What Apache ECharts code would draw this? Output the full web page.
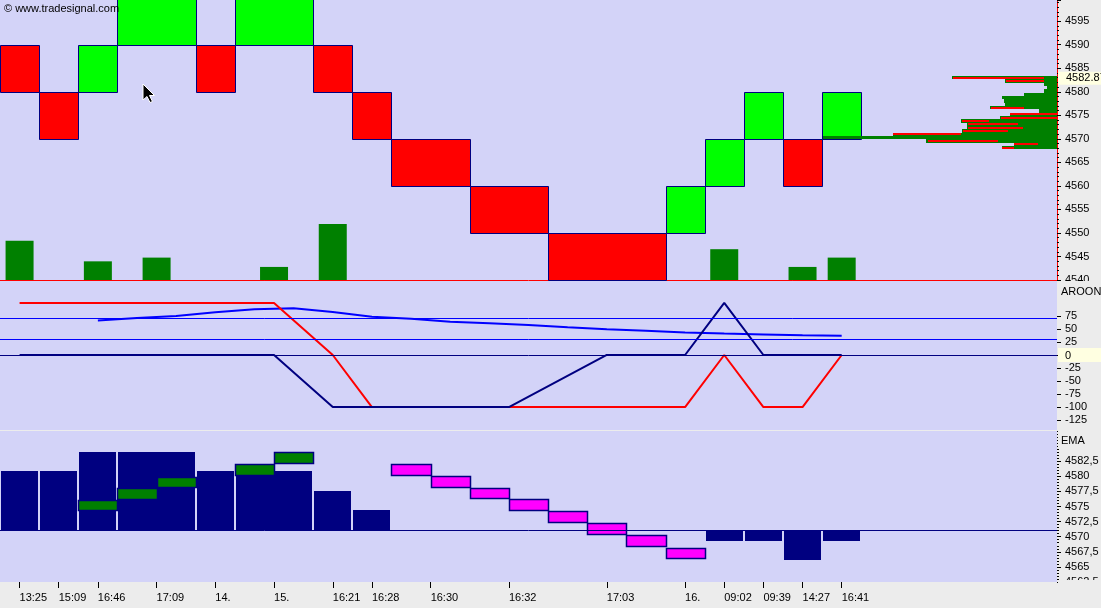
<!DOCTYPE html>
<html><head><meta charset="utf-8">
<script src="https://cdn.jsdelivr.net/npm/echarts@6/dist/echarts.min.js"></script>
<style>html,body{margin:0;padding:0;background:#ececec;}#c{width:1101px;height:608px;}</style>
</head><body><div id="c"></div>
<script>
// ---------------- data ----------------
const colLabels = ["13:25","15:09","16:46","17:09","14.","15.","16:21","16:28","16:30","16:32","17:03","16.","09:02","09:39","14:27","16:41"];
const colWidths = [1,1,1,2,1,2,1,1,2,2,3,1,1,1,1,1];
const renkoLow  = [4580,4570,4580,4590,4580,4590,4580,4570,4560,4550,4540,4550,4560,4570,4560,4570];
const renkoDir  = ['down','down','up','up','down','up','down','down','down','down','down','up','up','up','down','up'];
const renkoBoxSize = 10;
const volume = [42,null,20,24,null,14,60,null,null,null,null,null,33,null,14,24];
const lastPrice = 4582.87;
const priceTickLabels = [4540,4545,4550,4555,4560,4565,4570,4575,4580,4585,4590,4595];

const profilePrice = [4583.00,4582.29,4581.58,4580.87,4580.16,4579.46,4578.75,4578.04,4577.33,4576.62,4575.91,4575.21,4574.50,4573.79,4573.08,4572.37,4571.66,4570.96,4570.25,4569.54,4568.83,4568.12];
const profileTotal = [105,52,13,10,13,33,55,53,52,67,18,47,57,96,90,90,95,164,234,131,43,55];
const profileRedFrom = [13,13,null,null,null,null,null,null,null,33,null,0,0,68,39,34,49,96,null,59,19,43];
const profileRedTo   = [104,51,null,null,null,null,null,null,null,66,null,47,56,95,89,89,94,164,null,129,43,55];
const profileStep = 0.708;

const aroonUp   = [100,100,100,100,100,100,0,-100,-100,-100,-100,-100,0,-100,-100,0];
const aroonDown = [0,0,0,0,0,0,-100,-100,-100,-100,0,0,100,0,0,0];
const oscSlots  = [2,3,4,5,6,7,8,9,10,11,12,13,14,15,16,17,18,19,20,21];
const oscValues = [66,71,75,82,88,89.5,82.5,73.5,69.5,64,61,57.5,53,49.5,46.5,43,41,39.5,38,37];
const aroonLevels = [70,30];
const aroonTickLabels = [75,50,25,0,-25,-50,-75,-100,-125];

const emaHist = [4580.9,4580.9,4584.0,4584.0,4580.9,4580.9,4577.6,4574.4,null,null,null,null,4569.3,4569.3,4566.1,4569.3];
const emaBase = 4571.1;
const emaBoxSlot   = [2,3,4,6,7,10,11,12,13,14,15,16,17];
const emaBoxTop    = [4576.0,4578.0,4579.9,4582.0,4584.0,4582.0,4580.0,4578.0,4576.2,4574.2,4572.2,4570.2,4568.2];
const emaBoxBottom = [4574.4,4576.2,4578.2,4580.2,4582.2,4580.2,4578.2,4576.4,4574.4,4572.4,4570.4,4568.4,4566.4];
const emaBoxTrend  = ['up','up','up','up','up','down','down','down','down','down','down','down','down'];

// ---------------- derived ----------------
const colStart = []; let acc = 0;
colWidths.forEach(w => { colStart.push(acc); acc += w; });
const colCenter = colStart.map((s, i) => s + colWidths[i] / 2);

const FONT = 'Arial, "Liberation Sans", sans-serif';
const LBL = { color: '#000', fontFamily: FONT, fontSize: 11 };
const BG = '#d3d3f8';
const GRAY = '#ececec';
const NAVY = '#000080';
const R = Math.round;

const renkoData = colStart.map((s, i) => [s, colWidths[i], renkoLow[i], renkoLow[i] + renkoBoxSize, renkoDir[i] === 'up' ? 1 : 0]);
const volData = [];
volume.forEach((v, i) => { if (v != null) volData.push([colCenter[i], v]); });
const profileData = profilePrice.map((p, i) => [p, profileTotal[i], profileRedFrom[i] == null ? -1 : profileRedFrom[i], profileRedTo[i] == null ? -1 : profileRedTo[i]]);
const histData = [];
emaHist.forEach((v, i) => { if (v != null) histData.push([colStart[i], colWidths[i], v]); });
const boxData = emaBoxSlot.map((s, i) => [s, emaBoxTop[i], emaBoxBottom[i], emaBoxTrend[i] === 'up' ? 1 : 0]);

const chart = echarts.init(document.getElementById('c'), null, { renderer: 'canvas' });

const option = {
  animation: false,
  backgroundColor: GRAY,
  grid: [
    { left: 0, right: 44, top: 0, height: 280, show: true, backgroundColor: BG, borderWidth: 0, outerBoundsMode: 'none' },
    { left: 0, right: 44, top: 281, height: 149, show: true, backgroundColor: BG, borderWidth: 0, outerBoundsMode: 'none' },
    { left: 0, right: 44, top: 431, height: 151, show: true, backgroundColor: BG, borderWidth: 0, outerBoundsMode: 'none' }
  ],
  xAxis: [
    { gridIndex: 0, type: 'value', min: 0, max: 27, axisLine: { show: true, onZero: false, lineStyle: { color: '#ff0000', width: 1 } }, axisTick: { show: false }, axisLabel: { show: false }, splitLine: { show: false } },
    { gridIndex: 1, type: 'value', min: 0, max: 27, show: false },
    { gridIndex: 2, type: 'value', min: 0, max: 27, z: 20,
      axisLine: { show: false, onZero: false },
      axisTick: { show: true, customValues: colCenter, length: 6, lineStyle: { color: '#000', width: 1 } },
      axisLabel: Object.assign({}, LBL, { customValues: colCenter, align: 'left', margin: 10,
        formatter: v => { const i = colCenter.indexOf(v); return i >= 0 ? colLabels[i] : ''; } }),
      splitLine: { show: false } },
    { gridIndex: 0, type: 'value', min: 0, max: 1057, inverse: true, show: false }
  ],
  yAxis: [
    { gridIndex: 0, type: 'value', position: 'right', min: 4540, max: 4599.5, interval: 5,
      axisLine: { show: true, onZero: false, lineStyle: { color: '#ff0000', width: 1 } },
      axisTick: { show: true, length: 4, lineStyle: { color: '#000' } },
      minorTick: { show: true, splitNumber: 5, length: 2, lineStyle: { color: '#000' } },
      axisLabel: Object.assign({}, LBL, { margin: 8, formatter: v => priceTickLabels.indexOf(v) >= 0 ? String(v) : '' }),
      splitLine: { show: false } },
    { gridIndex: 0, type: 'value', min: 0, max: 300, show: false },
    { gridIndex: 0, type: 'value', position: 'right', min: 4540, max: 4599.5, z: 5,
      axisLine: { show: false, onZero: false }, axisTick: { show: false }, splitLine: { show: false },
      axisLabel: { customValues: [lastPrice], margin: 1,
        formatter: v => '{hl|' + v.toFixed(2) + '}',
        rich: { hl: { backgroundColor: '#ffffe1', color: '#000', fontFamily: FONT, fontSize: 11, padding: [1, 12, 1, 8] } } } },
    { gridIndex: 1, type: 'value', position: 'right', min: -144, max: 142,
      axisLine: { show: false, onZero: false },
      axisTick: { show: true, customValues: aroonTickLabels, length: 4, lineStyle: { color: '#000' } },
      axisLabel: { customValues: aroonTickLabels, margin: 1,
        formatter: v => v === 0 ? '{hl|0}' : '{n|' + v + '}',
        rich: {
          n: { color: '#000', fontFamily: FONT, fontSize: 11, padding: [0, 0, 0, 7] },
          hl: { backgroundColor: '#ffffe1', color: '#000', fontFamily: FONT, fontSize: 11, padding: [2, 32, 1, 7] }
        } },
      splitLine: { show: false } },
    { gridIndex: 2, type: 'value', position: 'right', min: 4562.5, max: 4587.5, interval: 2.5,
      axisLine: { show: false, onZero: false },
      axisTick: { show: true, length: 4, lineStyle: { color: '#000' } },
      minorTick: { show: true, splitNumber: 5, length: 2, lineStyle: { color: '#000' } },
      axisLabel: Object.assign({}, LBL, { margin: 8, formatter: v => v > 4582.5 ? '' : String(v).replace('.', ',') }),
      splitLine: { show: false } }
  ],
  series: [
    { name: 'Volume', type: 'bar', xAxisIndex: 0, yAxisIndex: 1, barWidth: 28, data: volData,
      itemStyle: { color: '#008000' }, silent: true },
    { name: 'Renko', type: 'custom', xAxisIndex: 0, yAxisIndex: 0, data: renkoData, silent: true,
      encode: { x: [0, 1], y: [2, 3] },
      renderItem: (params, api) => {
        const a = api.coord([api.value(0), api.value(3)]);
        const b = api.coord([api.value(0) + api.value(1), api.value(2)]);
        const x0 = R(a[0]), y0 = R(a[1]), x1 = R(b[0]), y1 = R(b[1]);
        return { type: 'rect', shape: { x: x0 + 0.5, y: y0 + 0.5, width: x1 - x0, height: y1 - y0 },
          style: { fill: api.value(4) ? '#00ff00' : '#ff0000', stroke: NAVY, lineWidth: 1 } };
      } },
    { name: 'Profile', type: 'custom', xAxisIndex: 3, yAxisIndex: 0, data: profileData, silent: true,
      encode: { x: 1, y: 0 },
      renderItem: (params, api) => {
        const p = api.value(0);
        const top = R(api.coord([0, p + profileStep / 2])[1]);
        const bot = R(api.coord([0, p - profileStep / 2])[1]);
        const c = api.coord([0, p]);
        const g = api.coord([api.value(1), p]);
        const mid = R(c[1]);
        const children = [{ type: 'rect', shape: { x: R(g[0]), y: top, width: R(c[0]) - R(g[0]), height: Math.max(bot - top, 3) },
          style: { fill: '#008000' } }];
        if (api.value(2) >= 0) {
          const r0 = api.coord([api.value(3), p]);
          const r1 = api.coord([api.value(2), p]);
          children.push({ type: 'rect', shape: { x: R(r0[0]), y: mid - 1, width: R(r1[0]) - R(r0[0]), height: 2 },
            style: { fill: '#ff0000' } });
        }
        return { type: 'group', children };
      } },
    { name: 'Oscillator', type: 'line', xAxisIndex: 1, yAxisIndex: 3, silent: true,
      data: oscSlots.map((s, i) => [s + 0.5, oscValues[i]]), showSymbol: false,
      lineStyle: { color: '#0000ff', width: 2 },
      markLine: { silent: true, symbol: ['none', 'none'], label: { show: false },
        lineStyle: { color: '#0000ff', width: 1, type: 'solid' },
        data: aroonLevels.map(v => ({ yAxis: v })).concat([{ yAxis: 0, lineStyle: { color: NAVY, width: 1, type: 'solid' } }]) } },
    { name: 'Aroon Up', type: 'line', xAxisIndex: 1, yAxisIndex: 3, silent: true,
      data: colCenter.map((c, i) => [c, aroonUp[i]]), showSymbol: false,
      lineStyle: { color: '#ff0000', width: 2 } },
    { name: 'Aroon Down', type: 'line', xAxisIndex: 1, yAxisIndex: 3, silent: true,
      data: colCenter.map((c, i) => [c, aroonDown[i]]), showSymbol: false,
      lineStyle: { color: NAVY, width: 2 } },
    { name: 'EMA Hist', type: 'custom', xAxisIndex: 2, yAxisIndex: 4, data: histData, silent: true,
      encode: { x: [0, 1], y: 2 },
      renderItem: (params, api) => {
        const a = api.coord([api.value(0), api.value(2)]);
        const b = api.coord([api.value(0) + api.value(1), emaBase]);
        const x0 = R(a[0]) + 1, x1 = R(b[0]) - 1;
        const yt = Math.min(a[1], b[1]), yb = Math.max(a[1], b[1]);
        return { type: 'rect', shape: { x: x0, y: R(yt), width: x1 - x0, height: R(yb) - R(yt) }, style: { fill: NAVY } };
      },
      markLine: { silent: true, symbol: ['none', 'none'], label: { show: false },
        lineStyle: { color: NAVY, width: 1, type: 'solid' }, data: [{ yAxis: emaBase }] } },
    { name: 'EMA', type: 'custom', xAxisIndex: 2, yAxisIndex: 4, data: boxData, silent: true,
      encode: { x: 0, y: [1, 2] },
      renderItem: (params, api) => {
        const a = api.coord([api.value(0), api.value(1)]);
        const b = api.coord([api.value(0) + 1, api.value(2)]);
        const x0 = R(a[0]), y0 = R(a[1]), x1 = R(b[0]), y1 = R(b[1]);
        return { type: 'rect', shape: { x: x0 + 0.5, y: y0 + 0.5, width: x1 - x0, height: y1 - y0 },
          style: { fill: api.value(3) ? '#008000' : '#ff00ff', stroke: NAVY, lineWidth: 1.5 } };
      } }
  ],
  graphic: { elements: [
    { type: 'text', left: 4, top: 3, z: 100, style: { text: '\u00a9 www.tradesignal.com', fill: '#000', font: '11px ' + FONT } },
    { type: 'polygon', z: 100, shape: { points: [[143, 84], [143, 100], [147, 96.5], [150, 102.5], [152.5, 101.5], [149.5, 95.5], [154.5, 95.5]] },
      style: { fill: '#000', stroke: '#fff', lineWidth: 1 } },
    { type: 'rect', z: 100, shape: { x: 1058, y: 281, width: 43, height: 19 }, style: { fill: GRAY } },
    { type: 'text', z: 101, left: 1061, top: 286, style: { text: 'AROON', fill: '#000', font: '11px ' + FONT } },
    { type: 'rect', z: 100, shape: { x: 1058, y: 431, width: 43, height: 18 }, style: { fill: GRAY } },
    { type: 'text', z: 101, left: 1061, top: 435, style: { text: 'EMA', fill: '#000', font: '11px ' + FONT } },
    { type: 'rect', z: 100, shape: { x: 1058, y: 580, width: 43, height: 28 }, style: { fill: GRAY } }
  ] }
};
chart.setOption(option);
</script>
</body></html>
